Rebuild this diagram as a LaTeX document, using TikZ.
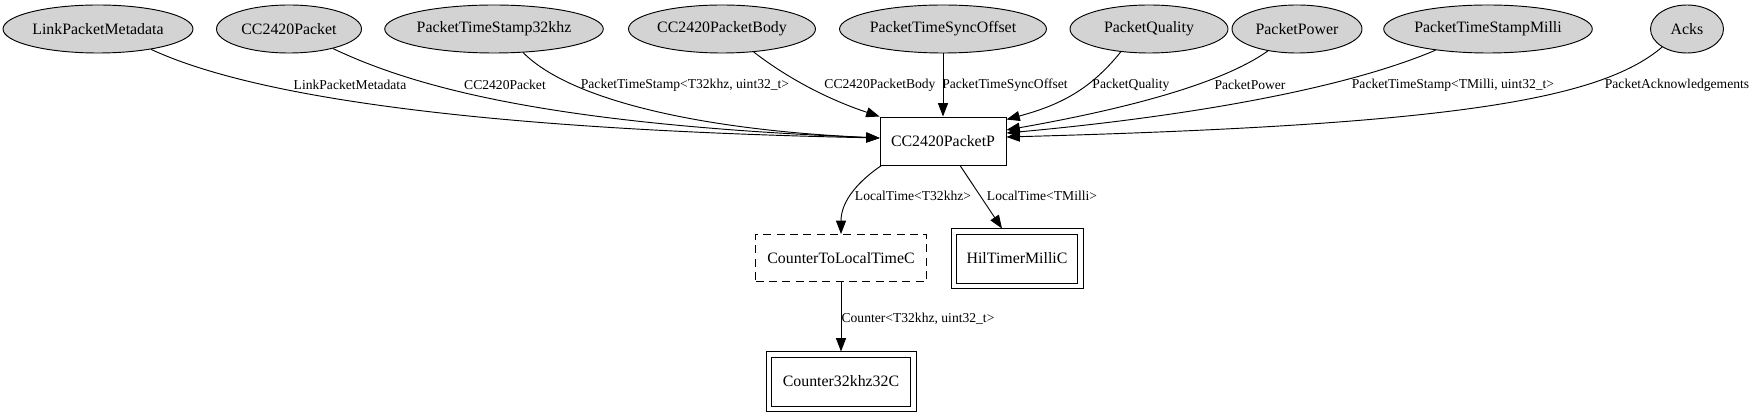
\documentclass[tikz,border=0pt]{standalone}
\usepackage{fontspec}
\setmainfont{Liberation Serif}
\usetikzlibrary{arrows.meta,shapes.geometric}
\definecolor{NodeGrey}{HTML}{D3D3D3}

\tikzset{
  iface/.style={ellipse,draw,fill=NodeGrey,inner sep=0pt,minimum height=36pt,font=\fontsize{11.9}{14}\selectfont},
  comp/.style={rectangle,draw,inner sep=0pt,minimum height=36pt,font=\fontsize{11.9}{14}\selectfont},
  gencomp/.style={comp,dash pattern=on 6pt off 4pt},
  modcomp/.style={comp,minimum height=36.75pt},
  wire/.style={-{Triangle[length=10pt,width=7.5pt]}},
  lbl/.style={font=\fontsize{10.2}{12}\selectfont,inner sep=0pt}
}

\begin{document}
\begin{tikzpicture}[x=.75pt,y=-.75pt,line width=.7pt]
\useasboundingbox (0,0) rectangle (1756,416);
% interfaces
\node[iface,minimum width=142.5pt] (meta) at (98,29) {LinkPacketMetadata};
\node[iface,minimum width=108.75pt] (pkt) at (289,29) {CC2420Packet};
\node[iface,minimum width=161.25pt] (ts32) at (494,29) {PacketTimeStamp32khz};
\node[iface,minimum width=140.25pt] (body) at (722,29) {CC2420PacketBody};
\node[iface,minimum width=154.5pt] (sync) at (943,29) {PacketTimeSyncOffset};
\node[iface,minimum width=118.5pt] (qual) at (1149,29) {PacketQuality};
\node[iface,minimum width=97.5pt] (pow) at (1297,29) {PacketPower};
\node[iface,minimum width=152.25pt] (tsms) at (1488,29) {PacketTimeStampMilli};
\node[iface,minimum width=54.75pt] (acks) at (1687,29) {Acks};
% components
\node[comp,minimum width=94.5pt] (main) at (943,141) {CC2420PacketP};
\node[gencomp,minimum width=128.25pt,minimum height=35.25pt] (c2lt) at (841,258) {CounterToLocalTimeC};
\node[modcomp,minimum width=90.75pt] (hil) at (1017,258.5) {HilTimerMilliC};
\node[modcomp,minimum width=104.25pt] (cnt) at (841,381.5) {Counter32khz32C};
\draw ([shift={(-3.75pt,3.75pt)}]hil.north west) rectangle ([shift={(3.75pt,-3.75pt)}]hil.south east);
\draw ([shift={(-3.75pt,3.75pt)}]cnt.north west) rectangle ([shift={(3.75pt,-3.75pt)}]cnt.south east);
% wires into CC2420PacketP
\draw[wire] (meta.-21.8) .. controls (260,100) and (500,130) .. ([yshift=2.25pt]main.west);
\draw[wire] (pkt.-24.4) .. controls (420,90) and (560,125) .. ([yshift=2.25pt]main.west);
\draw[wire] (ts32.-39.4) .. controls (570,100) and (700,130) .. ([yshift=2.25pt]main.west);
\draw[wire] (body.-36.6) .. controls (790,80) and (830,100) .. (main.north west);
\draw[wire] (sync) -- (main);
\draw[wire] (qual.-141.6) .. controls (1090,90) and (1060,105) .. ([yshift=-2.25pt]main.north east);
\draw[wire] (pow.-143.7) .. controls (1220,85) and (1120,110) .. ([yshift=8.25pt]main.east);
\draw[wire] (tsms.-158.4) .. controls (1330,95) and (1150,120) .. ([yshift=6pt]main.east);
\draw[wire] (acks.-144.2) .. controls (1600,100) and (1450,125) .. ([yshift=3pt]main.east);
\node[lbl] (lmeta) at (350,85) {LinkPacketMetadata};
\node[lbl] (lpkt) at (505,85) {CC2420Packet};
\node[lbl] (lts32) at (685,85) {PacketTimeStamp<T32khz, uint32\_t>};
\node[lbl] (lbody) at (880,85) {CC2420PacketBody};
\node[lbl] (lsync) at (1005,85) {PacketTimeSyncOffset};
\node[lbl] (lqual) at (1131,85) {PacketQuality};
\node[lbl] (lpow) at (1250,85) {PacketPower};
\node[lbl] (ltsms) at (1453,85) {PacketTimeStamp<TMilli, uint32\_t>};
\node[lbl] (lacks) at (1677,85) {PacketAcknowledgements};
% wires out of CC2420PacketP
\draw[wire] ([xshift=1.5pt]main.south west) .. controls (860,180) and (841,200) .. (c2lt.north);
\draw[wire] ([xshift=12.75pt]main.south) -- ([xshift=-11.25pt,yshift=3.75pt]hil.north);
\draw[wire] (c2lt) -- ([yshift=3.75pt]cnt.north);
\node[lbl] (llt32) at (913,196) {LocalTime<T32khz>};
\node[lbl] (lltms) at (1042,196) {LocalTime<TMilli>};
\node[lbl] (lcnt) at (918,319) {Counter<T32khz, uint32\_t>};
\end{tikzpicture}
\end{document}
